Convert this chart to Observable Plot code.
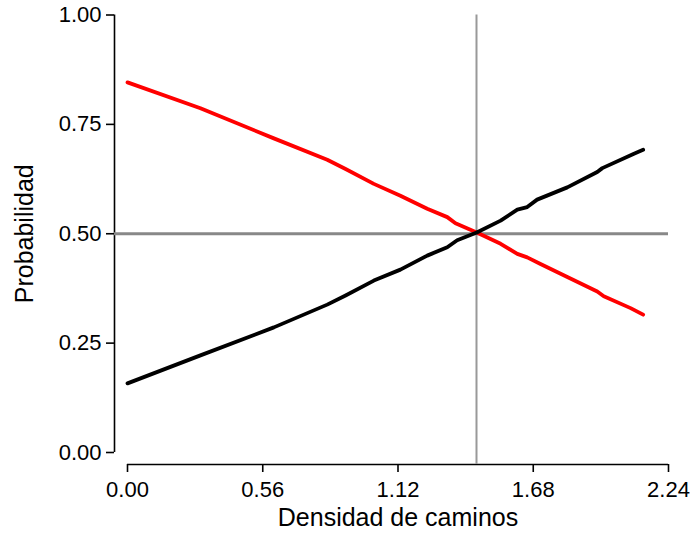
<!DOCTYPE html>
<html>
<head>
<meta charset="utf-8">
<script src="https://cdn.jsdelivr.net/npm/d3@7"></script>
<script src="https://cdn.jsdelivr.net/npm/@observablehq/plot@0.6"></script>
<style>
  body { margin: 0; background: #fff; }
  #chart { width: 694px; height: 540px; }
</style>
</head>
<body>
<div id="chart"></div>
<script>
const xTicks = [0, 0.56, 1.12, 1.68, 2.24];
const yTicks = [0, 0.25, 0.5, 0.75, 1];
const redX = [0, 0.302, 0.606, 0.827, 0.903, 1.02, 1.13, 1.241, 1.324, 1.358, 1.446, 1.545, 1.614, 1.655, 1.71, 1.821, 1.945, 1.972, 2.083, 2.135];
const redY = [0.846, 0.787, 0.718, 0.669, 0.648, 0.614, 0.587, 0.557, 0.538, 0.524, 0.503, 0.477, 0.454, 0.446, 0.431, 0.401, 0.368, 0.357, 0.330, 0.315];
const blackX = [0, 0.302, 0.606, 0.827, 0.903, 1.02, 1.13, 1.241, 1.324, 1.365, 1.446, 1.545, 1.614, 1.655, 1.696, 1.821, 1.945, 1.966, 2.097, 2.135];
const blackY = [0.158, 0.222, 0.286, 0.338, 0.359, 0.393, 0.418, 0.450, 0.469, 0.485, 0.503, 0.530, 0.555, 0.561, 0.578, 0.606, 0.641, 0.650, 0.683, 0.692];
const cutX = 1.445;
const refY = 0.5;

const red = redX.map((x, i) => ({x, y: redY[i]}));
const black = blackX.map((x, i) => ({x, y: blackY[i]}));

const chart = Plot.plot({
  width: 694,
  height: 540,
  marginLeft: 127,
  marginRight: 26,
  marginTop: 14.5,
  marginBottom: 88,
  style: {fontFamily: "'Liberation Sans', Arial, sans-serif", fontSize: "22px", color: "#000", background: "#fff"},
  x: {domain: [0, 2.24]},
  y: {domain: [0, 1]},
  marks: [
    // axis lines
    Plot.ruleX([0], {y1: 0, y2: 1, dx: -13, stroke: "#000", strokeWidth: 1.6}),
    Plot.ruleY([0], {x1: 0, x2: 2.24, dy: 12, stroke: "#000", strokeWidth: 1.6}),
    Plot.axisY({ticks: yTicks, tickFormat: d3.format(".2f"), tickSize: 8, tickPadding: 5, dx: -13, strokeWidth: 1.6, label: null, fontSize: 22}),
    Plot.axisX({ticks: xTicks, tickFormat: d3.format(".2f"), tickSize: 8, tickPadding: 9, dy: 12, strokeWidth: 1.6, label: null, fontSize: 22}),
    // reference lines
    Plot.ruleY([refY], {x1: 0, x2: 2.24, insetLeft: -13, stroke: "#888", strokeWidth: 3}),
    Plot.ruleX([cutX], {y1: 1, y2: 0, insetBottom: -12, stroke: "#999", strokeWidth: 2}),
    // curves
    Plot.line(red, {x: "x", y: "y", stroke: "#ff0000", strokeWidth: 3.8}),
    Plot.line(black, {x: "x", y: "y", stroke: "#000", strokeWidth: 3.8}),
    // axis titles
    Plot.text(["Densidad de caminos"], {frameAnchor: "bottom", dy: 65, fontSize: 25, textAnchor: "middle", lineAnchor: "middle"}),
    Plot.text(["Probabilidad"], {frameAnchor: "left", dx: -103, rotate: -90, fontSize: 25, textAnchor: "middle", lineAnchor: "middle"})
  ]
});
document.getElementById("chart").appendChild(chart);
</script>
</body>
</html>
